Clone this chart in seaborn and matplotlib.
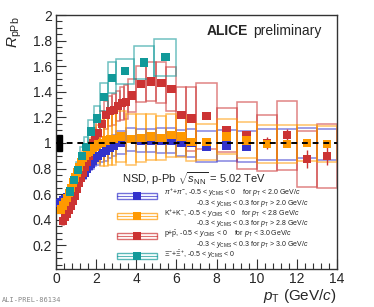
import numpy as np
import pandas as pd
import matplotlib
matplotlib.use('Agg')
import matplotlib.pyplot as plt
import seaborn as sns
from matplotlib.patches import Rectangle
from matplotlib.ticker import MultipleLocator, FuncFormatter

sns.set_style('ticks')
plt.rcParams['font.family'] = ['Liberation Sans', 'DejaVu Sans']
plt.rcParams['mathtext.fontset'] = 'custom'
plt.rcParams['mathtext.rm'] = 'Liberation Sans'
plt.rcParams['mathtext.it'] = 'Liberation Sans:italic'
plt.rcParams['mathtext.bf'] = 'Liberation Sans:bold'

# ---- data ----
# pions
pi_edges = [0.1, 0.2, 0.3, 0.4, 0.5, 0.6, 0.7, 0.8, 0.9, 1.0, 1.1, 1.2, 1.3, 1.4, 1.5, 1.6, 1.7, 1.8, 1.9, 2.0,
            2.2, 2.4, 2.6, 2.8, 3.0, 3.5, 4.0, 4.5, 5.0, 5.5, 6.0, 6.5, 7.0, 8.0, 9.0, 10.0, 11.0, 12.0, 13.0, 14.0]
pi_R = [0.53, 0.54, 0.55, 0.56, 0.58, 0.60, 0.62, 0.64, 0.66, 0.68, 0.71, 0.73, 0.75, 0.77, 0.80, 0.82, 0.84, 0.86, 0.88,
        0.90, 0.92, 0.94, 0.96, 0.98, 1.00, 1.03, 1.02, 1.02, 1.02, 1.02, 1.00, 1.00, 0.97, 0.98, 0.97, 0.99, 0.99, 1.00, 0.99]
pi_sys = [0.03, 0.03, 0.03, 0.03, 0.03, 0.03, 0.03, 0.03, 0.04, 0.04, 0.04, 0.04, 0.04, 0.05, 0.05, 0.05, 0.05, 0.06, 0.06,
          0.07, 0.07, 0.08, 0.08, 0.08, 0.09, 0.09, 0.09, 0.09, 0.10, 0.10, 0.10, 0.11, 0.12, 0.12, 0.12, 0.12, 0.12, 0.12, 0.12]

# kaons
k_edges = [0.2, 0.3, 0.4, 0.5, 0.6, 0.7, 0.8, 0.9, 1.0, 1.1, 1.2, 1.3, 1.4, 1.5, 1.6, 1.7, 1.8, 1.9, 2.0,
           2.2, 2.4, 2.6, 2.8, 3.0, 3.5, 4.0, 4.5, 5.0, 5.5, 6.0, 6.5, 7.0, 8.0, 9.0, 10.0, 11.0, 12.0, 13.0, 14.0]
k_R = [0.48, 0.51, 0.54, 0.57, 0.61, 0.65, 0.69, 0.73, 0.77, 0.81, 0.85, 0.88, 0.90, 0.92, 0.93, 0.95, 0.96, 0.97,
       0.99, 1.00, 1.02, 1.03, 1.03, 1.05, 1.03, 1.04, 1.05, 1.04, 1.06, 1.05, 1.01, 1.01, 1.05, 1.02, 0.99, 0.99, 1.00, 0.99]
k_sys = [0.03, 0.03, 0.03, 0.03, 0.03, 0.04, 0.04, 0.04, 0.05, 0.05, 0.05, 0.06, 0.06, 0.07, 0.08, 0.09, 0.10, 0.12,
         0.15, 0.18, 0.20, 0.20, 0.20, 0.20, 0.20, 0.19, 0.18, 0.17, 0.17, 0.16, 0.15, 0.14, 0.14, 0.14, 0.15, 0.15, 0.14, 0.14]

# protons
p_edges = [0.3, 0.4, 0.5, 0.6, 0.7, 0.8, 0.9, 1.0, 1.1, 1.2, 1.3, 1.4, 1.5, 1.6, 1.7, 1.8, 1.9, 2.0,
           2.2, 2.4, 2.6, 2.8, 3.0, 3.2, 3.4, 3.6, 4.0, 4.5, 5.0, 5.5, 6.0, 6.5, 7.0, 8.0, 9.0, 10.0, 11.0, 12.0, 13.0, 14.0]
p_R = [0.39, 0.42, 0.45, 0.48, 0.51, 0.55, 0.59, 0.64, 0.69, 0.73, 0.77, 0.81, 0.85, 0.90, 0.95, 1.00, 1.04,
       1.08, 1.15, 1.22, 1.25, 1.26, 1.29, 1.31, 1.32, 1.37, 1.46, 1.48, 1.47, 1.42, 1.22, 1.19, 1.21, 1.10, 1.06, 1.00, 1.06, 0.875, 0.90]
p_sys = [0.03, 0.03, 0.03, 0.03, 0.03, 0.04, 0.04, 0.04, 0.04, 0.05, 0.05, 0.05, 0.06, 0.06, 0.07, 0.07, 0.08,
         0.09, 0.10, 0.11, 0.12, 0.12, 0.12, 0.13, 0.13, 0.13, 0.14, 0.15, 0.16, 0.17, 0.22, 0.25, 0.26, 0.17, 0.26, 0.22, 0.27, 0.22, 0.25]
p_stat = [0.01] * 17 + [0.01] * 13 + [0.02, 0.02, 0.02, 0.03, 0.03, 0.05, 0.05, 0.07, 0.07]

# cascades
xi_edges = [0.6, 0.8, 1.0, 1.2, 1.4, 1.6, 1.9, 2.2, 2.6, 3.0, 3.9, 4.9, 6.0]
xi_R = [0.62, 0.71, 0.79, 0.90, 0.97, 1.09, 1.19, 1.36, 1.51, 1.56, 1.63, 1.67]
xi_sys = [0.05, 0.05, 0.06, 0.07, 0.08, 0.09, 0.10, 0.11, 0.12, 0.10, 0.13, 0.145]

norm_unc = 0.063

colors = {'pi': '#3333cc', 'K': '#ff9900', 'p': '#cc3333', 'Xi': '#119999'}


def make_frame(name, edges, vals, sys, stat=None):
    edges = np.array(edges)
    d = pd.DataFrame({'lo': edges[:-1], 'hi': edges[1:], 'R': vals, 'sys': sys})
    d['pt'] = 0.5 * (d['lo'] + d['hi'])
    d['stat'] = stat if stat is not None else 0.0
    d['species'] = name
    return d


df = pd.concat([make_frame('pi', pi_edges, pi_R, pi_sys),
                make_frame('p', p_edges, p_R, p_sys, p_stat),
                make_frame('K', k_edges, k_R, k_sys),
                make_frame('Xi', xi_edges, xi_R, xi_sys)], ignore_index=True)

fig = plt.figure(figsize=(3.74, 3.07), dpi=100)
ax = fig.add_axes([0.1497, 0.1238, 0.7513, 0.8273])

# systematic boxes
for name in ['pi', 'p', 'K', 'Xi']:
    sub = df[df['species'] == name]
    for _, r in sub.iterrows():
        ax.add_patch(Rectangle((r['lo'], r['R'] - r['sys']), r['hi'] - r['lo'], 2 * r['sys'],
                               fill=False, edgecolor=colors[name], alpha=0.6, lw=1.1, zorder=2))
    if sub['stat'].max() > 0:
        ax.errorbar(sub['pt'], sub['R'], yerr=sub['stat'], fmt='none',
                    ecolor=colors[name], elinewidth=1.0, zorder=3)

sns.scatterplot(data=df, x='pt', y='R', hue='species', palette=colors, marker='s',
                s=36, linewidth=0, legend=False, ax=ax, zorder=4)

# normalisation box and unity line
ax.add_patch(Rectangle((0.05, 1 - norm_unc), 0.25, 2 * norm_unc, color='black', zorder=5))
ax.axhline(1, color='black', ls=(0, (3, 2.5)), lw=1.4, zorder=5)

ax.set_xlim(0, 14)
ax.set_ylim(0.015, 2)
ax.xaxis.set_major_locator(MultipleLocator(2))
ax.xaxis.set_minor_locator(MultipleLocator(0.4))
ax.yaxis.set_major_locator(MultipleLocator(0.2))
ax.yaxis.set_minor_locator(MultipleLocator(0.05))
ax.yaxis.set_major_formatter(FuncFormatter(lambda v, p: '%g' % round(v, 2)))
ax.tick_params(which='both', direction='in', top=False, right=False, labelsize=10,
               color='#333333', width=0.8, pad=3)
ax.tick_params(axis='x', pad=2)
ax.tick_params(which='major', length=7)
ax.tick_params(which='minor', length=4)
for s in ax.spines.values():
    s.set_color('#333333')
    s.set_linewidth(1.0)
ax.set_xlabel('')
ax.set_ylabel('')

fig.text(0.901, 0.035, r'$p_{\rm T}$ (GeV/$c$)', ha='right', va='center', fontsize=11)
fig.text(0.04, 0.945, r'$R_{\rm pPb}$', ha='center', va='top', rotation=90, fontsize=11)
fig.text(0.005, 0.016, 'ALI-PREL-86134', fontsize=5, family='DejaVu Sans Mono', color='#888888')

ax.text(0.537, 0.937, 'ALICE', transform=ax.transAxes, fontsize=10, fontweight='bold', va='center')
ax.text(0.703, 0.937, 'preliminary', transform=ax.transAxes, fontsize=10, va='center')

# legend drawn by hand
ax.text(0.235, 0.356, r'NSD, p-Pb $\sqrt{s_{\rm NN}}$ = 5.02 TeV', transform=ax.transAxes,
        fontsize=8, va='center')
leg_rows = [
    ('pi', r'$\pi^{+}$+$\pi^{-}$, -0.5 < $y_{\rm CMS}$ < 0    for $p_{\rm T}$ < 2.0 GeV/$c$',
     r'-0.3 < $y_{\rm CMS}$ < 0.3 for $p_{\rm T}$ > 2.0 GeV/$c$'),
    ('K', r'K$^{+}$+K$^{-}$, -0.5 < $y_{\rm CMS}$ < 0    for $p_{\rm T}$ < 2.8 GeV/$c$',
     r'-0.3 < $y_{\rm CMS}$ < 0.3 for $p_{\rm T}$ > 2.8 GeV/$c$'),
    ('p', r'p+$\bar{\rm p}$, -0.5 < $y_{\rm CMS}$ < 0    for $p_{\rm T}$ < 3.0 GeV/$c$',
     r'-0.3 < $y_{\rm CMS}$ < 0.3 for $p_{\rm T}$ > 3.0 GeV/$c$'),
    ('Xi', r'$\Xi^{-}$+$\bar{\Xi}^{+}$, -0.5 < $y_{\rm CMS}$ < 0', None),
]
sym_y = [0.287, 0.209, 0.130, 0.051]
txt_y = [(0.300, 0.259), (0.219, 0.179), (0.138, 0.097), (0.055, None)]
for (name, l1, l2), sy, (ty1, ty2) in zip(leg_rows, sym_y, txt_y):
    ax.add_patch(Rectangle((0.217, sy - 0.012), 0.142, 0.024, transform=ax.transAxes,
                           fill=False, edgecolor=colors[name], alpha=0.7, lw=1.0, zorder=6))
    ax.plot([0.217, 0.359], [sy, sy], transform=ax.transAxes, color=colors[name], lw=0.8, alpha=0.7, zorder=6)
    ax.plot([0.288], [sy], transform=ax.transAxes, marker='s', ms=5.5, color=colors[name], mew=0, zorder=7)
    ax.text(0.384, ty1, l1, transform=ax.transAxes, fontsize=5.0, va='center', color='#222222')
    if l2:
        ax.text(0.498, ty2, l2, transform=ax.transAxes, fontsize=5.0, va='center', color='#222222')

fig.savefig('out.png', dpi=100)
